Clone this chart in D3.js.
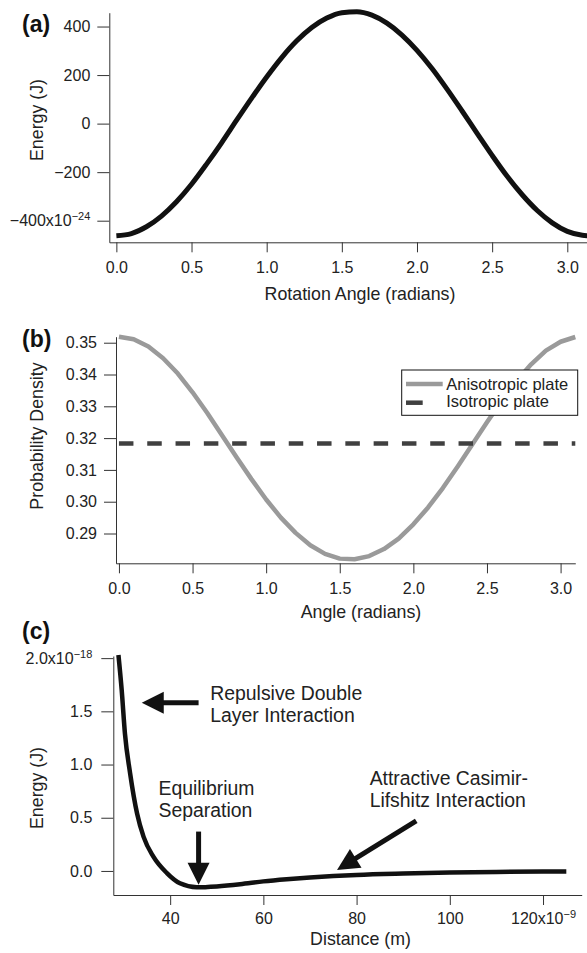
<!DOCTYPE html>
<html>
<head>
<meta charset="utf-8">
<script src="https://cdn.jsdelivr.net/npm/d3@7"></script>
<style>
  html, body { margin: 0; padding: 0; background: #fff; }
  svg { display: block; font-family: "Liberation Sans", Arial, Helvetica, sans-serif; }
</style>
</head>
<body>
<svg id="chart" width="587" height="953"></svg>
<script>
// ---------- Panel (a): rotation energy (units of 1e-24 J) ----------
const rotationAngle = [0, 0.1, 0.2, 0.3, 0.4, 0.5, 0.6, 0.7, 0.8, 0.9, 1.0, 1.1, 1.2, 1.3, 1.4, 1.5,
  1.6, 1.7, 1.8, 1.9, 2.0, 2.1, 2.2, 2.3, 2.4, 2.5, 2.6, 2.7, 2.8, 2.9, 3.0, 3.1, 3.1416];
const rotationEnergy = [-462, -453, -425, -381, -322, -250, -167, -79, 14, 105, 192, 272, 341, 396, 435, 457,
  461, 447, 414, 365, 302, 227, 142, 52, -40, -131, -217, -293, -358, -409, -444, -460, -462];
const energyTicksA = [-400, -200, 0, 200, 400];
const angleTicks = [0, 0.5, 1.0, 1.5, 2.0, 2.5, 3.0];

// ---------- Panel (b): orientation probability density ----------
const densityAngle = [0, 0.1, 0.2, 0.3, 0.4, 0.5, 0.6, 0.7, 0.8, 0.9, 1.0, 1.1, 1.2, 1.3, 1.4, 1.5,
  1.6, 1.7, 1.8, 1.9, 2.0, 2.1, 2.2, 2.3, 2.4, 2.5, 2.6, 2.7, 2.8, 2.9, 3.0, 3.1];
const anisotropicDensity = [0.3519, 0.3511, 0.3488, 0.3451, 0.3403, 0.3344, 0.3279, 0.3209, 0.3139, 0.3071,
  0.3007, 0.2950, 0.2902, 0.2863, 0.2836, 0.2821, 0.2819, 0.2829, 0.2851, 0.2884, 0.2929, 0.2982,
  0.3043, 0.3110, 0.3180, 0.3250, 0.3317, 0.3379, 0.3432, 0.3475, 0.3503, 0.3518];
const isotropicAngle = [0, 3.1];
const isotropicDensity = [0.3183, 0.3183];
const densityTicks = [0.29, 0.30, 0.31, 0.32, 0.33, 0.34, 0.35];
const legendLabels = ["Anisotropic plate", "Isotropic plate"];

// ---------- Panel (c): interaction energy vs distance (1e-9 m, 1e-18 J) ----------
const distance = [28.9, 29.6, 30.3, 31.4, 32.9, 34.3, 36.4, 39.3, 42.1, 45.7, 50, 55, 60, 65, 70, 75,
  80, 90, 100, 110, 120, 125];
const interactionEnergy = [2.03, 1.70, 1.29, 0.92, 0.54, 0.32, 0.134, -0.02, -0.116, -0.153, -0.145,
  -0.125, -0.098, -0.078, -0.062, -0.048, -0.037, -0.024, -0.015, -0.009, -0.005, -0.004];
const energyTicksC = [0, 0.5, 1.0, 1.5, 2.0];
const distanceTicks = [40, 60, 80, 100, 120];
const annotationText = [
  ["Repulsive Double", "Layer Interaction"],
  ["Equilibrium", "Separation"],
  ["Attractive Casimir-", "Lifshitz Interaction"]
];

const svg = d3.select("#chart");
const INK = "#222";
const AXIS = "#333";
const minus = s => s.replace("-", "\u2212");

// Axis styling, plus an exponent suffix on one chosen tick
function styleAxis(g, tickFont) {
  g.select(".domain").attr("stroke", AXIS).attr("stroke-width", 1);
  g.selectAll(".tick line").attr("stroke", AXIS).attr("stroke-width", 1);
  g.selectAll(".tick text").attr("fill", INK).style("font-size", tickFont + "px")
    .style("font-family", "\"Liberation Sans\", Arial, Helvetica, sans-serif");
}
function addExponent(g, value, exponent) {
  g.selectAll(".tick").filter(d => d === value).select("text").each(function () {
    const t = d3.select(this);
    const base = t.text();
    t.text(null);
    t.append("tspan").text(base + "x10");
    t.append("tspan").attr("dy", "-0.55em").style("font-size", "11px").text(minus(exponent));
  });
}

// ---------------- Panel (a) ----------------
const xA = d3.scaleLinear([-0.047, 3.131], [109.3, 587]);
const yA = d3.scaleLinear([-489, 457], [242.3, 12.7]);

const axA_x = svg.append("g").attr("transform", `translate(0,${yA.range()[0]})`)
  .call(d3.axisBottom(xA).tickValues(angleTicks).tickFormat(d3.format(".1f"))
    .tickSize(10).tickSizeOuter(0).tickPadding(9));
styleAxis(axA_x, 16);
const axA_y = svg.append("g").attr("transform", `translate(${xA.range()[0]},0)`)
  .call(d3.axisLeft(yA).tickValues(energyTicksA).tickFormat(d => minus(String(d)))
    .tickSize(12).tickSizeOuter(0).tickPadding(7));
styleAxis(axA_y, 16);
addExponent(axA_y, -400, "-24");

svg.append("path")
  .datum(rotationAngle.map((a, i) => [a, rotationEnergy[i]]))
  .attr("fill", "none").attr("stroke", "#111").attr("stroke-width", 5)
  .attr("stroke-linejoin", "round")
  .attr("d", d3.line().x(d => xA(d[0])).y(d => yA(d[1])).curve(d3.curveMonotoneX));

// ---------------- Panel (b) ----------------
const xB = d3.scaleLinear([-0.02, 3.1], [116, 575.3]);
const yB = d3.scaleLinear([0.28063, 0.35189], [563.3, 336.7]);

const axB_x = svg.append("g").attr("transform", `translate(0,${yB.range()[0]})`)
  .call(d3.axisBottom(xB).tickValues(angleTicks).tickFormat(d3.format(".1f"))
    .tickSize(10).tickSizeOuter(0).tickPadding(9));
styleAxis(axB_x, 16);
const axB_y = svg.append("g").attr("transform", `translate(${xB.range()[0]},0)`)
  .call(d3.axisLeft(yB).tickValues(densityTicks).tickFormat(d3.format(".2f"))
    .tickSize(12).tickSizeOuter(0).tickPadding(7));
styleAxis(axB_y, 16);

const lineB = d3.line().x(d => xB(d[0])).y(d => yB(d[1]));
svg.append("path")
  .datum(densityAngle.map((a, i) => [a, anisotropicDensity[i]]))
  .attr("fill", "none").attr("stroke", "#9a9a9a").attr("stroke-width", 4.5)
  .attr("stroke-linejoin", "round").attr("d", lineB);
svg.append("path")
  .datum(isotropicAngle.map((a, i) => [a, isotropicDensity[i]]))
  .attr("fill", "none").attr("stroke", "#404040").attr("stroke-width", 4.5)
  .attr("stroke-dasharray", "14.5,13.8").attr("d", lineB);

// legend
const leg = svg.append("g").attr("transform", "translate(401.7,370)");
leg.append("rect").attr("width", 176).attr("height", 45.3)
  .attr("fill", "#fff").attr("stroke", "#111").attr("stroke-width", 1);
leg.append("line").attr("x1", 4.3).attr("x2", 41).attr("y1", 14).attr("y2", 14)
  .attr("stroke", "#9a9a9a").attr("stroke-width", 4.5);
leg.append("line").attr("x1", 4.3).attr("x2", 21).attr("y1", 32.7).attr("y2", 32.7)
  .attr("stroke", "#404040").attr("stroke-width", 4.5);
leg.selectAll("text.leg").data(legendLabels).join("text")
  .attr("class", "leg").attr("x", 44.5).attr("y", (d, i) => 19.5 + i * 17.6)
  .attr("fill", INK).style("font-size", "16.5px").text(d => d);

// ---------------- Panel (c) ----------------
const xC = d3.scaleLinear([27.8, 128.3], [113.3, 581.7]);
const yC = d3.scaleLinear([-0.226, 2.02], [895, 656]);

const axC_x = svg.append("g").attr("transform", `translate(0,${yC.range()[0]})`)
  .call(d3.axisBottom(xC).tickValues(distanceTicks).tickFormat(d => String(d))
    .tickSize(10).tickSizeOuter(0).tickPadding(8));
styleAxis(axC_x, 16);
addExponent(axC_x, 120, "-9");
const axC_y = svg.append("g").attr("transform", `translate(${xC.range()[0]},0)`)
  .call(d3.axisLeft(yC).tickValues(energyTicksC).tickFormat(d3.format(".1f"))
    .tickSize(12).tickSizeOuter(0).tickPadding(9));
styleAxis(axC_y, 16);
addExponent(axC_y, 2.0, "-18");

svg.append("path")
  .datum(distance.map((d, i) => [d, interactionEnergy[i]]))
  .attr("fill", "none").attr("stroke", "#111").attr("stroke-width", 4.5)
  .attr("stroke-linejoin", "round")
  .attr("d", d3.line().x(d => xC(d[0])).y(d => yC(d[1])).curve(d3.curveMonotoneX));

// arrows: tail and tip given in data units of panel (c)
function arrow(tail, tip) {
  const x1 = xC(tail[0]), y1 = yC(tail[1]), x2 = xC(tip[0]), y2 = yC(tip[1]);
  const len = Math.hypot(x2 - x1, y2 - y1), ux = (x2 - x1) / len, uy = (y2 - y1) / len;
  const headLen = 22, headHalf = 11;
  const bx = x2 - ux * headLen, by = y2 - uy * headLen;
  svg.append("line").attr("x1", x1).attr("y1", y1).attr("x2", bx + ux * 2).attr("y2", by + uy * 2)
    .attr("stroke", "#111").attr("stroke-width", 5);
  svg.append("path").attr("fill", "#111")
    .attr("d", `M${x2},${y2}L${bx - uy * headHalf},${by + ux * headHalf}L${bx + uy * headHalf},${by - ux * headHalf}Z`);
}
arrow([46.1, 1.58], [33.9, 1.58]);
arrow([46.1, 0.37], [46.1, -0.13]);
arrow([92.8, 0.47], [75.8, 0.01]);

// annotation text anchored in data units
const annotationPos = [[48.6, 1.61], [37.5, 0.714], [82.8, 0.808]];
annotationText.forEach((lines, k) => {
  const t = svg.append("text").attr("fill", INK).style("font-size", "19.4px")
    .attr("x", xC(annotationPos[k][0])).attr("y", yC(annotationPos[k][1]));
  lines.forEach((s, j) => t.append("tspan").attr("x", xC(annotationPos[k][0]))
    .attr("dy", j === 0 ? 0 : 22.5).text(s));
});

// ---------------- Titles and panel letters ----------------
const titles = [
  { text: "Rotation Angle (radians)", x: 360, y: 300 },
  { text: "Angle (radians)", x: 361, y: 618 },
  { text: "Distance (m)", x: 360.5, y: 945 }
];
titles.forEach(t => svg.append("text").attr("x", t.x).attr("y", t.y)
  .attr("text-anchor", "middle").attr("fill", INK).style("font-size", "17.8px").text(t.text));

const yTitles = [
  { text: "Energy (J)", x: 43, y: 120 },
  { text: "Probability Density", x: 42.5, y: 436 },
  { text: "Energy (J)", x: 43, y: 788 }
];
yTitles.forEach(t => svg.append("text")
  .attr("transform", `translate(${t.x},${t.y}) rotate(-90)`)
  .attr("text-anchor", "middle").attr("fill", INK).style("font-size", "17.8px").text(t.text));

const letters = [{ text: "(a)", y: 32 }, { text: "(b)", y: 347 }, { text: "(c)", y: 638.5 }];
letters.forEach(t => svg.append("text").attr("x", 22).attr("y", t.y)
  .attr("fill", "#111").style("font-size", "23px").style("font-weight", "bold").text(t.text));
</script>
</body>
</html>
